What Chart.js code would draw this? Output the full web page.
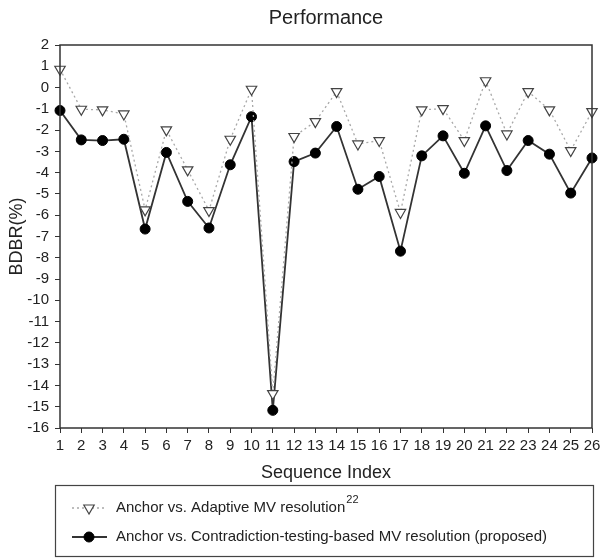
<!DOCTYPE html>
<html>
<head>
<meta charset="utf-8">
<script src="https://cdn.jsdelivr.net/npm/chart.js@4/dist/chart.umd.min.js"></script>
<style>
  html, body { margin: 0; padding: 0; background: #fff; }
  #wrap { width: 601px; height: 559px; }
</style>
</head>
<body>
<div id="wrap"><canvas id="myChart" width="601" height="559"></canvas></div>
<script>
const sequences = ['1', '2', '3', '4', '5', '6', '7', '8', '9', '10', '11', '12', '13',
  '14', '15', '16', '17', '18', '19', '20', '21', '22', '23', '24', '25', '26']

const adaptiveMV = [0.86, -1.02, -1.05, -1.24, -5.75, -1.99, -3.87, -5.78, -2.43, -0.08, -14.38, -2.3, -1.6,
  -0.19, -2.65, -2.49, -5.87, -1.05, -0.99, -2.49, 0.32, -2.18, -0.19, -1.05, -2.96, -1.13]

const proposedMV = [-1.08, -2.46, -2.49, -2.43, -6.65, -3.05, -5.35, -6.6, -3.63, -1.37, -15.17, -3.48, -3.08,
  -1.83, -4.78, -4.18, -7.69, -3.21, -2.27, -4.03, -1.8, -3.9, -2.49, -3.13, -4.96, -3.31]

const seriesLabels = ['Anchor vs. Adaptive MV resolution', 'Anchor vs. Contradiction-testing-based MV resolution (proposed)']
const seriesRefs = ['22', '']

const yMin = -16
const yMax = 2

const FONT = "'Liberation Sans', Arial, sans-serif"
const TEXT = '#222'

// box around the plot area + title centred over it
const frame = {
  id: 'frame',
  afterDraw(chart) {
    const { ctx, chartArea: a } = chart
    ctx.save()
    ctx.strokeStyle = '#333'
    ctx.lineWidth = 1.5
    ctx.strokeRect(a.left, a.top, a.right - a.left, a.bottom - a.top)

    ctx.fillStyle = TEXT
    ctx.font = '20px ' + FONT
    ctx.textAlign = 'center'
    ctx.textBaseline = 'middle'
    ctx.fillText('Performance', (a.left + a.right) / 2, 18)
    ctx.restore()
  },
}

// boxed legend under the axis title
const boxLegend = {
  id: 'boxLegend',
  afterDraw(chart) {
    const ctx = chart.ctx
    ctx.save()
    ctx.strokeStyle = '#444'
    ctx.lineWidth = 1.2
    ctx.strokeRect(55.5, 485.5, 538, 71)

    chart.data.datasets.forEach((ds, i) => {
      const y = 508 + i * 29
      ctx.save()
      ctx.strokeStyle = ds.borderColor
      ctx.lineWidth = ds.borderWidth
      ctx.setLineDash(ds.borderDash || [])
      ctx.beginPath()
      ctx.moveTo(72, y)
      ctx.lineTo(107, y)
      ctx.stroke()
      ctx.restore()

      ctx.fillStyle = ds.pointBackgroundColor
      ctx.strokeStyle = ds.pointBorderColor
      ctx.lineWidth = ds.pointBorderWidth
      Chart.helpers.drawPoint(ctx, {
        pointStyle: ds.pointStyle,
        rotation: ds.pointRotation || 0,
        radius: ds.pointRadius,
        borderWidth: ds.pointBorderWidth,
      }, 89, y)

      ctx.fillStyle = TEXT
      ctx.font = '15px ' + FONT
      ctx.textBaseline = 'middle'
      ctx.textAlign = 'left'
      ctx.fillText(seriesLabels[i], 116, y)
      if (seriesRefs[i]) {
        const w = ctx.measureText(seriesLabels[i]).width
        ctx.font = '11px ' + FONT
        ctx.fillText(seriesRefs[i], 116 + w + 1, y - 8)
      }
    })
    ctx.restore()
  },
}

const chartConfig = {
  type: 'line',
  data: {
    labels: sequences,
    datasets: [
      {
        label: seriesLabels[0],
        data: adaptiveMV,
        borderColor: '#a8a8a8',
        borderWidth: 1.3,
        borderDash: [2, 3],
        pointStyle: 'triangle',
        pointRotation: 180,
        pointRadius: 6,
        pointBackgroundColor: '#fff',
        pointBorderColor: '#444',
        pointBorderWidth: 1.2,
      },
      {
        label: seriesLabels[1],
        data: proposedMV,
        borderColor: '#333',
        borderWidth: 1.8,
        pointStyle: 'circle',
        pointRadius: 5,
        pointBackgroundColor: '#000',
        pointBorderColor: '#000',
        pointBorderWidth: 1,
      },
    ],
  },
  options: {
    responsive: false,
    animation: false,
    layout: { padding: { left: 0, right: 9, top: 45, bottom: 71 } },
    plugins: {
      legend: { display: false },
      tooltip: { enabled: false },
      title: { display: false },
    },
    scales: {
      x: {
        offset: false,
        grid: { display: true, drawOnChartArea: false, drawTicks: true, tickLength: 5, color: '#333' },
        border: { display: false },
        ticks: { color: TEXT, font: { family: FONT, size: 15 }, padding: 4, maxRotation: 0, autoSkip: false },
        title: {
          display: true,
          text: 'Sequence Index',
          color: TEXT,
          font: { family: FONT, size: 18 },
          padding: { top: 0, bottom: 4 },
        },
        afterFit(scale) {
          scale.height = 60
          scale.paddingLeft = 0
          scale.paddingRight = 0
        },
      },
      y: {
        min: yMin,
        max: yMax,
        grid: { display: true, drawOnChartArea: false, drawTicks: true, tickLength: 5, color: '#333' },
        border: { display: false },
        ticks: { stepSize: 1, color: TEXT, font: { family: FONT, size: 15 }, padding: 6 },
        title: {
          display: true,
          text: 'BDBR(%)',
          color: TEXT,
          font: { family: FONT, size: 18 },
          padding: { top: 6, bottom: 0 },
        },
        afterFit(scale) { scale.width = 60 },
      },
    },
  },
  plugins: [frame, boxLegend],
}

const el = document.getElementById('myChart')
const chart = new Chart(el.getContext('2d'), chartConfig)
</script>
</body>
</html>
